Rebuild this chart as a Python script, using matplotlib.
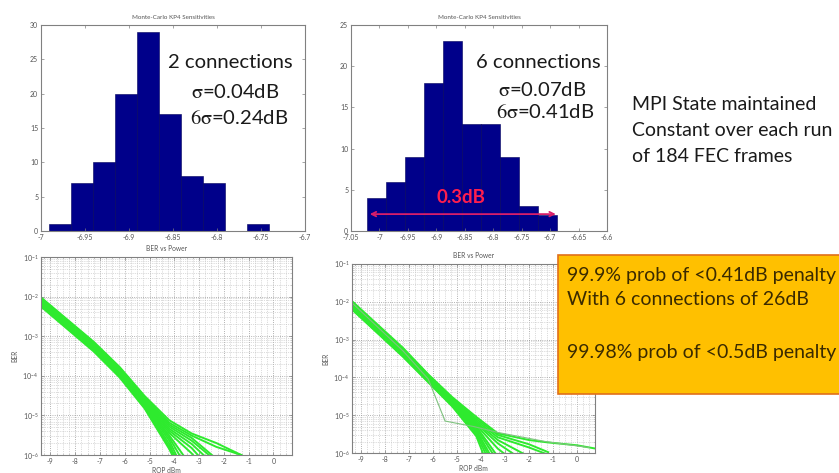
import numpy as np
import matplotlib
matplotlib.use('Agg')
import matplotlib.pyplot as plt
from matplotlib.patches import Rectangle
from matplotlib.ticker import MultipleLocator, FormatStrFormatter, LogLocator, NullFormatter

# ---------------- data ----------------
# Histogram 1 (2 connections)
hist1_range = (-6.9906, -6.741)
hist1_counts = [1, 7, 10, 20, 29, 17, 8, 7, 0, 1]
# Histogram 2 (6 connections)
hist2_range = (-7.022, -6.688)
hist2_counts = [4, 6, 9, 18, 23, 13, 13, 9, 3, 2]

nan = np.nan
# BER vs power, 2 connections
rop_left = [-9.35, -7.25, -6.2, -5.2, -4.2, -3.3, -2.3, -1.3]
ber_left = [
    [9.2e-3, 7.2e-4, 1.65e-4, 3.1e-5, 7.5e-6, 3.5e-6, 2.0e-6, 1.0e-6],
    [8.7e-3, 6.8e-4, 1.55e-4, 2.9e-5, 6.5e-6, 3.1e-6, 1.6e-6, 1.0e-6],
    [8.2e-3, 6.5e-4, 1.5e-4, 2.7e-5, 5.8e-6, 2.7e-6, 8.0e-7, nan],
    [7.8e-3, 6.2e-4, 1.42e-4, 2.55e-5, 5.2e-6, 2.3e-6, 7.0e-7, nan],
    [7.4e-3, 5.9e-4, 1.35e-4, 2.4e-5, 4.6e-6, 1.9e-6, 5.0e-7, nan],
    [7.1e-3, 5.7e-4, 1.28e-4, 2.25e-5, 4.1e-6, 1.5e-6, 3.0e-7, nan],
    [6.8e-3, 5.4e-4, 1.22e-4, 2.1e-5, 3.6e-6, 1.1e-6, 2.0e-7, nan],
    [6.5e-3, 5.1e-4, 1.16e-4, 2.0e-5, 3.1e-6, 5.0e-7, nan, nan],
    [6.3e-3, 4.9e-4, 1.1e-4, 1.9e-5, 2.7e-6, 3.0e-7, nan, nan],
    [6.0e-3, 4.7e-4, 1.05e-4, 1.8e-5, 2.3e-6, 1.5e-7, nan, nan],
    [5.8e-3, 4.5e-4, 1.0e-4, 1.7e-5, 1.9e-6, 1.0e-7, nan, nan],
    [5.6e-3, 4.3e-4, 9.5e-5, 1.6e-5, 1.6e-6, 1.0e-7, nan, nan],
    [5.4e-3, 4.1e-4, 9.0e-5, 1.5e-5, 1.4e-6, 1.0e-7, nan, nan],
]
# BER vs power, 6 connections
rop_right = [-9.35, -7.25, -6.2, -5.2, -4.2, -3.3, -2.0, -1.2, 0.0, 0.8]
ber_right = [
    [1.0e-2, 6.0e-4, 1.2e-4, 3.0e-5, 9.0e-6, 3.3e-6, 2.2e-6, 1.9e-6, 1.6e-6, 1.3e-6],
    [9.5e-3, 5.6e-4, 1.15e-4, 2.8e-5, 8.0e-6, 3.0e-6, 1.7e-6, 1.05e-6, nan, nan],
    [9.0e-3, 5.3e-4, 1.1e-4, 2.65e-5, 7.2e-6, 2.6e-6, 1.4e-6, 9.0e-7, nan, nan],
    [8.5e-3, 5.0e-4, 1.05e-4, 2.5e-5, 6.5e-6, 2.2e-6, 8.0e-7, nan, nan, nan],
    [8.0e-3, 4.8e-4, 1.0e-4, 2.4e-5, 6.0e-6, 1.8e-6, 5.0e-7, nan, nan, nan],
    [7.6e-3, 4.6e-4, 9.6e-5, 2.3e-5, 5.5e-6, 1.3e-6, 3.0e-7, nan, nan, nan],
    [7.3e-3, 4.4e-4, 9.2e-5, 2.2e-5, 5.0e-6, 8.0e-7, nan, nan, nan, nan],
    [7.0e-3, 4.2e-4, 8.8e-5, 2.1e-5, 4.5e-6, 6.0e-7, nan, nan, nan, nan],
    [6.7e-3, 4.0e-4, 8.4e-5, 2.0e-5, 4.0e-6, 4.0e-7, nan, nan, nan, nan],
    [6.4e-3, 3.8e-4, 8.0e-5, 1.9e-5, 3.6e-6, 3.0e-7, nan, nan, nan, nan],
    [6.2e-3, 3.6e-4, 7.7e-5, 1.8e-5, 3.2e-6, 2.0e-7, nan, nan, nan, nan],
    [6.0e-3, 3.5e-4, 7.4e-5, 1.7e-5, 2.8e-6, 1.0e-7, nan, nan, nan, nan],
]
rop_outlier = [-9.35, -7.25, -6.2, -5.5, -4.3, -3.3, -1.3, 0.5]
ber_outlier = [9.0e-3, 5.0e-4, 9.0e-5, 7.0e-6, 5.0e-6, 3.5e-6, 2.0e-6, 1.4e-6]

bin_count = 10

# ---------------- style ----------------
plt.rcParams['font.family'] = ['Lato', 'DejaVu Sans']
plt.rcParams['mathtext.fontset'] = 'stix'
plt.rcParams['mathtext.default'] = 'rm'

W, H = 839, 473
fig = plt.figure(figsize=(W / 100, H / 100), dpi=100)
fig.patch.set_facecolor('white')


def ax_px(l, t, r, b):
    return fig.add_axes([l / W, 1 - b / H, (r - l) / W, (b - t) / H])


TICK_C = '#555555'
SPINE_C = '#808080'
BAR_C = '#00008A'
GREEN = '#2EEA2E'


def style_axes(ax):
    for s in ax.spines.values():
        s.set_color(SPINE_C)
        s.set_linewidth(0.8)
    ax.tick_params(which='both', direction='in', top=True, right=True,
                   length=2, width=0.5, colors=SPINE_C, labelcolor=TICK_C,
                   labelsize=5, pad=2)


def hist_axes(ax, rng, counts, xlim, ylim, ystep):
    edges = np.linspace(rng[0], rng[1], bin_count + 1)
    ax.bar(edges[:-1], counts, width=np.diff(edges), align='edge',
           color=BAR_C, edgecolor='#00005a', linewidth=0.4)
    ax.set_xlim(*xlim)
    ax.set_ylim(*ylim)
    ax.xaxis.set_major_locator(MultipleLocator(0.05))
    ax.xaxis.set_major_formatter(FormatStrFormatter('%g'))
    ax.yaxis.set_major_locator(MultipleLocator(ystep))
    style_axes(ax)
    ax.set_title('Monte-Carlo KP4 Sensitivities', fontsize=4.5,
                 color=TICK_C, pad=4)


ax1 = ax_px(41, 25, 305, 231)
hist_axes(ax1, hist1_range, hist1_counts, (-7.0, -6.7), (0, 30), 5)
ax2 = ax_px(351, 25, 607, 231)
hist_axes(ax2, hist2_range, hist2_counts, (-7.05, -6.6), (0, 25), 5)

# annotations on histograms
big = 14.6
TXT_C = '#1a1a1a'
for x, y, s in [(168, 62, '2 connections'),
                (191, 92, r'$\sigma$=0.04dB'),
                (190, 118, r'$6\sigma$=0.24dB'),
                (476, 63, '6 connections'),
                (498, 90, r'$\sigma$=0.07dB'),
                (496, 112, r'$6\sigma$=0.41dB')]:
    fig.text(x / W, 1 - y / H, s, fontsize=big, va='center', ha='left',
             color=TXT_C)

ax2.annotate('', xy=(-6.69, 2.05), xytext=(-7.017, 2.05),
             arrowprops=dict(arrowstyle='<->', color='#D81E6A', lw=1.3,
                             mutation_scale=8, shrinkA=0, shrinkB=0))
ax2.text(-6.857, 4.1, '0.3dB', fontsize=13.5, fontweight='bold',
         color='#FF1E4E', ha='center', va='center')


def ber_axes(ax, xs, curves, title_pad):
    for c in curves:
        ax.plot(xs, c, color=GREEN, lw=1.4, solid_joinstyle='round')
    ax.set_yscale('log')
    ax.set_ylim(1e-6, 1e-1)
    ax.set_xlim(-9.38, 0.75)
    ax.xaxis.set_major_locator(MultipleLocator(1))
    ax.xaxis.set_major_formatter(FormatStrFormatter('%g'))
    ax.xaxis.set_minor_locator(MultipleLocator(0.25))
    ax.yaxis.set_major_locator(LogLocator(base=10, numticks=10))
    ax.yaxis.set_minor_locator(LogLocator(base=10, subs=np.arange(2, 10), numticks=20))
    ax.yaxis.set_minor_formatter(NullFormatter())
    ax.grid(True, which='major', linestyle=':', color='#999999', lw=0.6)
    ax.grid(True, which='minor', linestyle=':', color='#bbbbbb', lw=0.5)
    ax.set_axisbelow(True)
    style_axes(ax)
    ax.tick_params(which='minor', length=1)
    ax.set_title('BER vs Power', fontsize=4.8, color=TICK_C, pad=title_pad)
    ax.set_xlabel('ROP dBm', fontsize=4.8, color=TICK_C, labelpad=1.5)
    ax.set_ylabel('BER', fontsize=4.8, color=TICK_C, labelpad=3)


ax3 = ax_px(41, 257, 292, 455)
ber_axes(ax3, rop_left, ber_left, 4)
ax4 = ax_px(352, 264, 595, 453)
ber_axes(ax4, rop_right, ber_right, 4)
ax4.plot(rop_outlier, ber_outlier, color='#7FC27F', lw=0.8)

# right-side notes
note = 14.0
for y, s in [(105, 'MPI State maintained'), (130, 'Constant over each run'),
             (156, 'of 184 FEC frames')]:
    fig.text(632 / W, 1 - y / H, s, fontsize=note, va='center', ha='left',
             color=TXT_C)

box = Rectangle((558 / W, 1 - 394 / H), (845 - 558) / W, (394 - 255) / H,
                transform=fig.transFigure, facecolor='#FFC000',
                edgecolor='#E0701A', linewidth=1.2, zorder=10, clip_on=False)
fig.add_artist(box)
for y, s in [(275, '99.9% prob of <0.41dB penalty'),
             (299, 'With 6 connections of 26dB'),
             (352, '99.98% prob of <0.5dB penalty')]:
    t = fig.text(567 / W, 1 - y / H, s, fontsize=14.0, va='center', ha='left',
                 color='#3a2a00')
    t.set_zorder(11)

fig.savefig('out.png', dpi=100)
